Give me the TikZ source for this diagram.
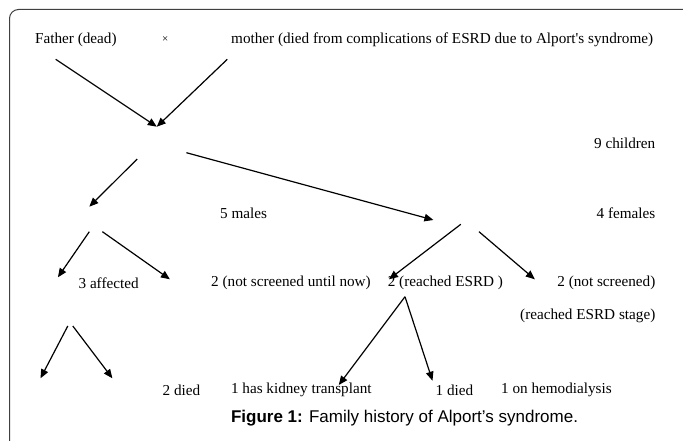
\documentclass[tikz,border=0pt]{standalone}
\usepackage{fontspec}
\setmainfont{Liberation Serif}
\newfontfamily\capfont{Liberation Sans}
\usetikzlibrary{arrows.meta}
\begin{document}
\begin{tikzpicture}[x=1pt,y=-1pt,
  lbl/.style={anchor=west,inner sep=0pt,font=\fontsize{15.2}{18}\selectfont},
  rlbl/.style={anchor=east,inner sep=0pt,font=\fontsize{15.2}{18}\selectfont},
  arr/.style={-{Triangle[length=9pt,width=7.5pt]},line width=1.2pt},
  frame/.style={draw=black!75,line width=1pt}]
\useasboundingbox (0,0) rectangle (683,441);
\draw[frame,rounded corners=9pt] (683,9.5) -- (9.5,9.5) -- (9.5,441);
% texts
\node[lbl] (father) at (35,39.5) {Father (dead)};
\node[lbl,font=\fontsize{11}{13}\selectfont] (times) at (162,40) {×};
\node[lbl] (mother) at (231,39.5) {mother (died from complications of ESRD due to Alport\textquotesingle s syndrome)};
\node[rlbl] (children) at (655.5,143.5) {9 children};
\node[lbl] (males) at (220,213) {5 males};
\node[rlbl] (females) at (655.5,213) {4 females};
\node[lbl] (affected) at (78.4,283) {3 affected};
\node[lbl] (notscr) at (211,283) {2 (not screened until now)};
\node[lbl] (reached) at (387.6,283) {2 (reached ESRD )};
\node[rlbl] (notscr2) at (655.5,283) {2 (not screened)};
\node[rlbl] (stage) at (655.5,316) {(reached ESRD stage)};
\node[lbl] (died2) at (162.5,390) {2 died};
\node[lbl] (kidney) at (230.8,390) {1 has kidney transplant};
\node[lbl] (died1) at (435.5,390) {1 died};
\node[lbl] (hemo) at (500.9,390) {1 on hemodialysis};
\node[lbl,font=\capfont\fontsize{17}{20}\selectfont] (caption) at (230.8,418) {\textbf{Figure 1:} Family history of Alport’s syndrome.};
% arrow end points
\coordinate (f1) at (55.7,59.3);   \coordinate (m1) at (227.3,59.3);
\coordinate (c1) at (156.8,126.7);
\coordinate (s1) at (137.2,159);   \coordinate (mt) at (89.3,206.7);
\coordinate (s2) at (186.4,152.7); \coordinate (ft) at (433.4,220);
\coordinate (ms1) at (89.3,231.7); \coordinate (aff) at (57.9,277.3);
\coordinate (ms2) at (102.4,231.7);\coordinate (nsu) at (169.9,279.3);
\coordinate (fs1) at (460.8,224.3);\coordinate (res) at (389,279.3);
\coordinate (fs2) at (479,231.7);  \coordinate (nsf) at (534.8,279.3);
\coordinate (rs) at (405,296.7);
\coordinate (kt) at (338.8,385);   \coordinate (dt) at (432.5,380.7);
\coordinate (as) at (70.3,326);
\coordinate (al) at (40.5,378.3);  \coordinate (ar) at (112.4,378.3);
% arrows
\draw[arr] (f1) -- (c1);
\draw[arr] (m1) -- (c1);
\draw[arr] (s1) -- (mt);
\draw[arr] (s2) -- (ft);
\draw[arr] (ms1) -- (aff);
\draw[arr] (ms2) -- (nsu);
\draw[arr] (fs1) -- (res);
\draw[arr] (fs2) -- (nsf);
\draw[arr] (rs) -- (kt);
\draw[arr] (rs) -- (dt);
\draw[arr] ([xshift=-2.5pt]as) -- (al);
\draw[arr] ([xshift=2.5pt]as) -- (ar);
\end{tikzpicture}
\end{document}
